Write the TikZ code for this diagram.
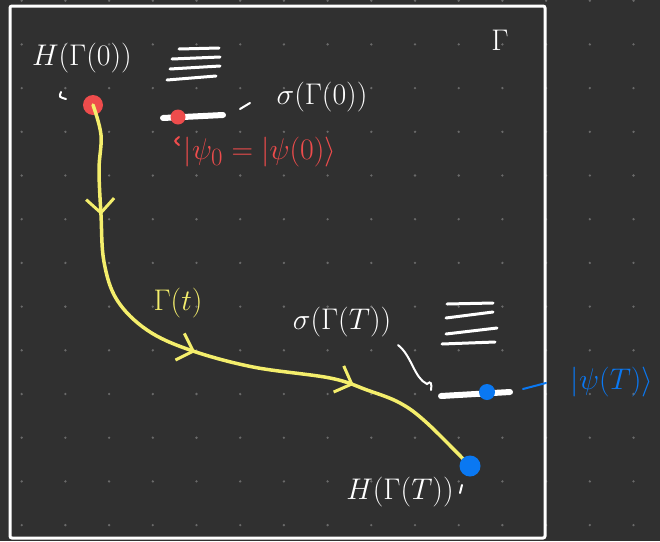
\documentclass[tikz,border=0pt]{standalone}
\usepackage{amsmath}
\usetikzlibrary{arrows.meta,decorations.markings}
\definecolor{board}{HTML}{303030}
\definecolor{griddot}{HTML}{6A6A6A}
\definecolor{redpt}{HTML}{EE4C4C}
\definecolor{yellowpath}{HTML}{F4EE6C}
\definecolor{bluept}{HTML}{0A78F2}
\tikzset{
  statedot/.style={circle,fill=#1,draw=none,inner sep=0pt},
  levelline/.style={white,line width=3pt,line cap=round},
  barline/.style={white,line width=6pt,line cap=round},
  stroke/.style={#1,line width=2pt,line cap=round},
  hand/.style={text=#1,inner sep=1pt,font=\Huge,scale=1.2,transform shape},
  chevron/.style={yellowpath,line width=3pt}
}
\begin{document}
\begin{tikzpicture}[x=1pt,y=-1pt]
  \fill[board] (0,0) rectangle (660,541);
  \useasboundingbox (0,0) rectangle (660,541);
  % dot grid
  \foreach \i in {0,...,14}
    \foreach \j in {0,...,12}
      \fill[griddot] (21.7+43.7*\i,0.7+43.7*\j) circle (1.3pt);
  \draw[white,line width=3pt,rounded corners=2pt] (10,6) rectangle (545,538);
  \node[hand=white] (G) at (500,40) {$\Gamma$};

  % start: H(Gamma(0)) and its spectrum
  \node[statedot=redpt,minimum size=20pt] (p0) at (93,105) {};
  \node[hand=white] (H0) at (82,58) {$H(\Gamma(0))$};
  \draw[stroke=white] (61,92) .. controls (59,97) .. (66,99);
  \draw[levelline] (179,49) -- (219,48);
  \draw[levelline] (172,59) -- (220,57);
  \draw[levelline] (170,69) -- (220,66);
  \draw[levelline] (167,80) -- (216,76);
  \coordinate (b0l) at (163,118);
  \coordinate (b0r) at (223,115);
  \draw[barline] (b0l) -- (b0r);
  \node[statedot=redpt,minimum size=15pt] (g0) at (178,117) {};
  \node[hand=white] (S0) at (322,97) {$\sigma(\Gamma(0))$};
  \coordinate (s0) at (240,109);
  \draw[stroke=white] (s0) -- ++(10,-6);
  \node[hand=redpt] (psi0) at (260,152) {$|\psi_0 = |\psi(0)\rangle$};
  \draw[stroke=redpt] (179,137) .. controls (174,141) .. (179,145);

  % path Gamma(t)
  \draw[yellowpath,line width=3.5pt,line cap=round,
        postaction={decorate,decoration={markings,
          mark=at position 0.185 with {\arrow[chevron]{Straight Barb[length=14pt,width=28pt]}},
          mark=at position 0.49 with {\arrow[chevron]{Straight Barb[length=14pt,width=28pt]}},
          mark=at position 0.76 with {\arrow[chevron]{Straight Barb[length=14pt,width=28pt]}}}}]
    plot[smooth,tension=0.6] coordinates {(p0.center) (101,135) (99,170) (101,215) (104,262) (117,300)
      (147,330) (190,350) (253,367) (330,378) (367,390) (400,403) (427,423) (470,466)};
  \node[statedot=bluept,minimum size=21pt] (pT) at (470,466) {};
  \node[hand=yellowpath] (gam) at (178,303) {$\Gamma(t)$};

  % end: H(Gamma(T)) and its spectrum
  \node[hand=white] (ST) at (342,322) {$\sigma(\Gamma(T))$};
  \coordinate (hk) at (427,384);
  \draw[stroke=white] (398,345) .. controls (412,356) and (414,378) .. (hk)
    .. controls (431,380) and (432,384) .. (431,390);
  \draw[levelline] (447,304) -- (493,303);
  \draw[levelline] (446,318) -- (493,312);
  \draw[levelline] (446,334) -- (497,328);
  \draw[levelline] (442,344) -- (495,342);
  \coordinate (bTl) at (441,396);
  \coordinate (bTr) at (510,392);
  \draw[barline] (bTl) -- (bTr);
  \node[statedot=bluept,minimum size=16pt] (gT) at (487,392) {};
  \coordinate (sT) at (523,389);
  \draw[stroke=bluept] (sT) -- ++(23,-6);
  \node[hand=bluept] (psiT) at (612,382) {$|\psi(T)\rangle$};
  \node[hand=white] (HT) at (400,492) {$H(\Gamma(T))$};
  \draw[stroke=white] (462,485) -- (460,493);
\end{tikzpicture}
\end{document}
